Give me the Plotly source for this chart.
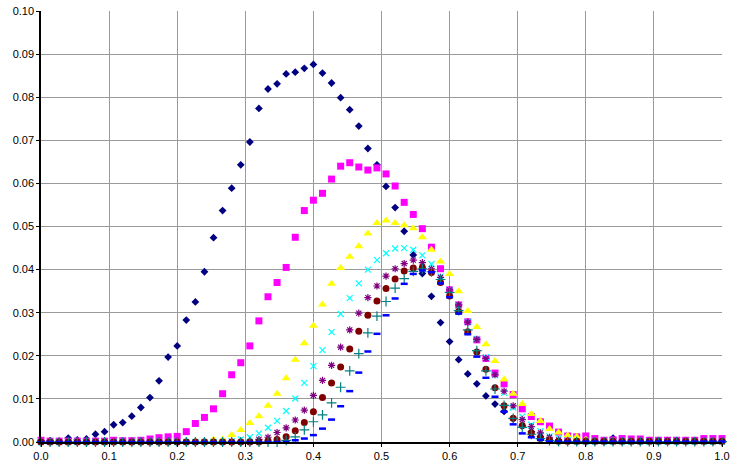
import plotly.graph_objects as go

# x positions: 76 evenly spaced samples from 0 to 1
X = [i / 75 for i in range(76)]

S1 = [0.0003, 0.0003, 0.0001, 0.0009, 0.0005, 0.0007, 0.0018, 0.0024, 0.0040, 0.0045,
      0.0060, 0.0080, 0.0103, 0.0142, 0.0197, 0.0223, 0.0283, 0.0325, 0.0395, 0.0474,
      0.0537, 0.0589, 0.0643, 0.0696, 0.0774, 0.0819, 0.0831, 0.0854, 0.0858, 0.0867,
      0.0876, 0.0856, 0.0833, 0.0799, 0.0771, 0.0733, 0.0681, 0.0643, 0.0593, 0.0544,
      0.0489, 0.0434, 0.0391, 0.0338, 0.0277, 0.0233, 0.0191, 0.0158, 0.0135, 0.0107,
      0.0088, 0.0071, 0.0054, 0.0037, 0.0024, 0.0013, 0.0007, 0.0004, 0.0003, 0.0002,
      0.0002, 0.0002, 0.0002, 0.0009, 0.0002, 0.0002, 0.0002, 0.0002, 0.0002, 0.0002,
      0.0002, 0.0002, 0.0002, 0.0002, 0.0002, 0.0002]

S2 = [0.0004, 0.0002, 0.0002, 0.0002, 0.0002, 0.0002, 0.0002, 0.0002, 0.0004, 0.0003,
      0.0003, 0.0004, 0.0007, 0.0010, 0.0012, 0.0013, 0.0024, 0.0043, 0.0057, 0.0077,
      0.0112, 0.0156, 0.0184, 0.0223, 0.0281, 0.0337, 0.0370, 0.0405, 0.0475, 0.0537,
      0.0561, 0.0577, 0.0610, 0.0640, 0.0648, 0.0638, 0.0631, 0.0636, 0.0622, 0.0594,
      0.0556, 0.0528, 0.0495, 0.0452, 0.0402, 0.0353, 0.0318, 0.0279, 0.0237, 0.0194,
      0.0160, 0.0135, 0.0110, 0.0077, 0.0059, 0.0047, 0.0037, 0.0023, 0.0014, 0.0012,
      0.0014, 0.0008, 0.0004, 0.0005, 0.0008, 0.0007, 0.0007, 0.0004, 0.0004, 0.0004,
      0.0004, 0.0004, 0.0004, 0.0008, 0.0008, 0.0008]

S3 = [0.0000, 0.0000, 0.0000, 0.0000, 0.0000, 0.0000, 0.0000, 0.0000, 0.0000, 0.0000,
      0.0000, 0.0000, 0.0000, 0.0000, 0.0000, 0.0000, 0.0000, 0.0001, 0.0003, 0.0006,
      0.0006, 0.0016, 0.0028, 0.0044, 0.0060, 0.0084, 0.0112, 0.0148, 0.0191, 0.0229,
      0.0270, 0.0319, 0.0367, 0.0404, 0.0430, 0.0454, 0.0484, 0.0508, 0.0514, 0.0508,
      0.0503, 0.0496, 0.0475, 0.0446, 0.0419, 0.0390, 0.0350, 0.0304, 0.0267, 0.0227,
      0.0188, 0.0145, 0.0112, 0.0088, 0.0065, 0.0049, 0.0030, 0.0022, 0.0015, 0.0012,
      0.0006, 0.0002, 0.0002, 0.0002, 0.0002, 0.0002, 0.0002, 0.0002, 0.0002, 0.0002,
      0.0002, 0.0002, 0.0002, 0.0002, 0.0002, 0.0002]

S4 = [0.0000, 0.0000, 0.0000, 0.0000, 0.0000, 0.0000, 0.0000, 0.0000, 0.0000, 0.0000,
      0.0000, 0.0000, 0.0000, 0.0000, 0.0000, 0.0000, 0.0000, 0.0000, 0.0000, 0.0000,
      0.0000, 0.0002, 0.0006, 0.0011, 0.0020, 0.0033, 0.0049, 0.0072, 0.0101, 0.0137,
      0.0176, 0.0213, 0.0255, 0.0297, 0.0334, 0.0368, 0.0400, 0.0422, 0.0438, 0.0449,
      0.0450, 0.0446, 0.0433, 0.0413, 0.0384, 0.0352, 0.0317, 0.0279, 0.0239, 0.0197,
      0.0155, 0.0114, 0.0080, 0.0059, 0.0040, 0.0025, 0.0013, 0.0009, 0.0004, 0.0001,
      0.0001, 0.0001, 0.0001, 0.0001, 0.0001, 0.0001, 0.0001, 0.0001, 0.0001, 0.0001,
      0.0001, 0.0001, 0.0001, 0.0001, 0.0001, 0.0001]

S5 = [0.0000, 0.0000, 0.0000, 0.0000, 0.0000, 0.0000, 0.0000, 0.0000, 0.0000, 0.0000,
      0.0000, 0.0000, 0.0000, 0.0000, 0.0000, 0.0000, 0.0000, 0.0000, 0.0000, 0.0000,
      0.0000, 0.0000, 0.0000, 0.0000, 0.0006, 0.0011, 0.0022, 0.0033, 0.0051, 0.0074,
      0.0108, 0.0143, 0.0178, 0.0220, 0.0260, 0.0299, 0.0335, 0.0362, 0.0385, 0.0402,
      0.0414, 0.0422, 0.0416, 0.0402, 0.0382, 0.0353, 0.0318, 0.0278, 0.0238, 0.0194,
      0.0156, 0.0118, 0.0084, 0.0052, 0.0036, 0.0021, 0.0011, 0.0005, 0.0001, 0.0001,
      0.0001, 0.0001, 0.0001, 0.0001, 0.0001, 0.0001, 0.0001, 0.0001, 0.0001, 0.0001,
      0.0001, 0.0001, 0.0001, 0.0001, 0.0001, 0.0001]

S6 = [0.0000, 0.0000, 0.0000, 0.0000, 0.0000, 0.0000, 0.0000, 0.0000, 0.0000, 0.0000,
      0.0000, 0.0000, 0.0000, 0.0000, 0.0000, 0.0000, 0.0000, 0.0000, 0.0000, 0.0000,
      0.0000, 0.0000, 0.0000, 0.0000, 0.0000, 0.0003, 0.0006, 0.0012, 0.0026, 0.0045,
      0.0070, 0.0103, 0.0137, 0.0174, 0.0216, 0.0257, 0.0294, 0.0327, 0.0356, 0.0378,
      0.0397, 0.0404, 0.0405, 0.0393, 0.0370, 0.0339, 0.0303, 0.0256, 0.0209, 0.0169,
      0.0126, 0.0084, 0.0055, 0.0038, 0.0021, 0.0008, 0.0004, 0.0002, 0.0002, 0.0002,
      0.0002, 0.0002, 0.0002, 0.0002, 0.0002, 0.0002, 0.0002, 0.0002, 0.0002, 0.0002,
      0.0002, 0.0002, 0.0002, 0.0002, 0.0002, 0.0002]

S7 = [0.0000, 0.0000, 0.0000, 0.0000, 0.0000, 0.0000, 0.0000, 0.0000, 0.0000, 0.0000,
      0.0000, 0.0000, 0.0000, 0.0000, 0.0000, 0.0000, 0.0000, 0.0000, 0.0000, 0.0000,
      0.0000, 0.0000, 0.0000, 0.0000, 0.0000, 0.0000, 0.0000, 0.0004, 0.0012, 0.0028,
      0.0047, 0.0063, 0.0091, 0.0127, 0.0165, 0.0205, 0.0253, 0.0292, 0.0326, 0.0357,
      0.0379, 0.0396, 0.0402, 0.0395, 0.0377, 0.0347, 0.0305, 0.0260, 0.0212, 0.0165,
      0.0123, 0.0085, 0.0055, 0.0034, 0.0018, 0.0008, 0.0003, 0.0001, 0.0001, 0.0001,
      0.0001, 0.0001, 0.0001, 0.0001, 0.0001, 0.0001, 0.0001, 0.0001, 0.0001, 0.0001,
      0.0001, 0.0001, 0.0001, 0.0001, 0.0001, 0.0001]

S8 = [0.0000, 0.0000, 0.0000, 0.0000, 0.0000, 0.0000, 0.0000, 0.0000, 0.0000, 0.0000,
      0.0000, 0.0000, 0.0000, 0.0000, 0.0000, 0.0000, 0.0000, 0.0000, 0.0000, 0.0000,
      0.0000, 0.0000, 0.0000, 0.0000, 0.0000, 0.0000, 0.0000, 0.0000, 0.0004, 0.0008,
      0.0016, 0.0031, 0.0052, 0.0083, 0.0118, 0.0161, 0.0210, 0.0251, 0.0294, 0.0333,
      0.0367, 0.0390, 0.0398, 0.0394, 0.0368, 0.0336, 0.0298, 0.0250, 0.0198, 0.0149,
      0.0105, 0.0070, 0.0041, 0.0020, 0.0011, 0.0005, 0.0001, 0.0001, 0.0001, 0.0001,
      0.0001, 0.0001, 0.0001, 0.0001, 0.0001, 0.0001, 0.0001, 0.0001, 0.0001, 0.0001,
      0.0001, 0.0001, 0.0001, 0.0001, 0.0001, 0.0001]

X_TICKS = [0.0, 0.1, 0.2, 0.3, 0.4, 0.5, 0.6, 0.7, 0.8, 0.9, 1.0]
X_TICK_LABELS = ["0.0", "0.1", "0.2", "0.3", "0.4", "0.5", "0.6", "0.7", "0.8", "0.9", "1.0"]
Y_TICKS = [0.00, 0.01, 0.02, 0.03, 0.04, 0.05, 0.06, 0.07, 0.08, 0.09, 0.10]
Y_TICK_LABELS = ["0.00", "0.01", "0.02", "0.03", "0.04", "0.05", "0.06", "0.07", "0.08", "0.09", "0.10"]

series = [
    (S1, dict(symbol="diamond", size=6, color="#000080", line=dict(width=0))),
    (S2, dict(symbol="square", size=7, color="#FF00FF", line=dict(width=0))),
    (S3, dict(symbol="triangle-up", size=8, color="#FFFF00", line=dict(width=0))),
    (S4, dict(symbol="x-thin-open", size=6, color="#00FFFF", line=dict(width=1.2, color="#00FFFF"))),
    (S5, dict(symbol="asterisk-open", size=6, color="#800080", line=dict(width=1.2, color="#800080"))),
    (S6, dict(symbol="circle", size=7, color="#800000", line=dict(width=0))),
    (S7, dict(symbol="cross-thin-open", size=7, color="#008080", line=dict(width=1.2, color="#008080"))),
    (S8, dict(symbol="line-ew-open", size=5, color="#0000FF", line=dict(width=2.5, color="#0000FF"))),
]

fig = go.Figure()
for ys, mk in series:
    fig.add_trace(go.Scatter(x=X, y=ys, mode="markers", marker=mk,
                             showlegend=False, cliponaxis=False))

font = dict(family="Liberation Sans, Arial, sans-serif", size=11, color="#000000")
fig.update_layout(
    width=731, height=467,
    margin=dict(l=41, r=9, t=11, b=25, autoexpand=False),
    paper_bgcolor="#FFFFFF", plot_bgcolor="#FFFFFF",
    font=font,
    xaxis=dict(range=[0, 1], tickvals=X_TICKS, ticktext=X_TICK_LABELS,
               showgrid=True, gridcolor="#9a9a9a", gridwidth=1,
               showline=True, linecolor="#000000", linewidth=1.5,
               ticks="outside", ticklen=3, tickcolor="#000000",
               zeroline=False, tickfont=font, automargin=False),
    yaxis=dict(range=[0, 0.1], tickvals=Y_TICKS, ticktext=Y_TICK_LABELS,
               showgrid=True, gridcolor="#9a9a9a", gridwidth=1,
               showline=True, linecolor="#000000", linewidth=1.5,
               ticks="outside", ticklen=3, tickcolor="#000000",
               zeroline=False, tickfont=font, automargin=False),
)

fig.write_html(
    "out.html",
    config={"displayModeBar": False},
    post_script="document.body.style.margin='0';document.body.style.overflow='hidden';",
)
